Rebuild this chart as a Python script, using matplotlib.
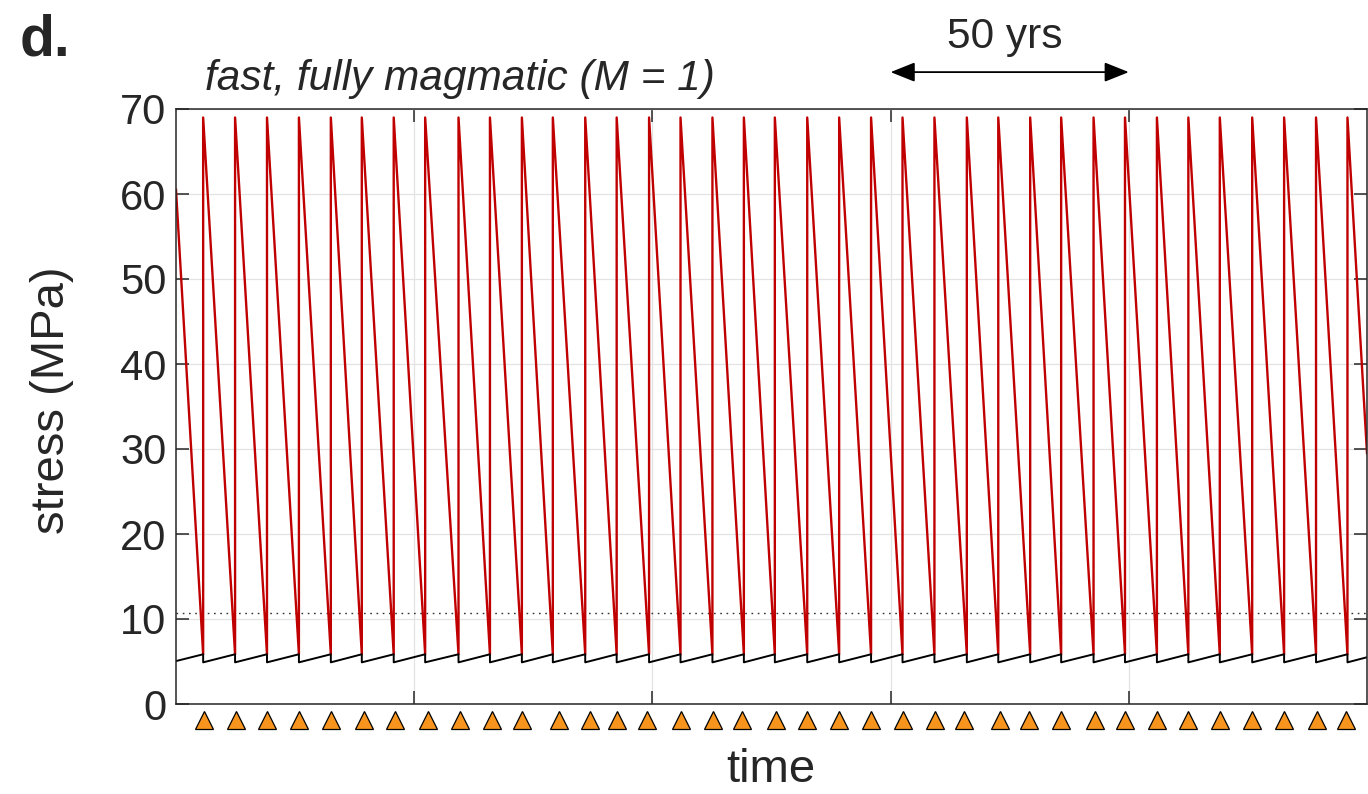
import matplotlib.pyplot as plt
import numpy as np

plt.rcParams['font.family'] = ['Liberation Sans', 'DejaVu Sans']

# eruption / dike events (yrs)
event_t = [5.7, 12.4, 19.1, 25.8, 32.5, 39.0, 45.7, 52.3, 59.3, 65.9,
           72.6, 79.1, 85.9, 92.5, 99.3, 105.9, 112.6, 119.2, 125.7, 132.5,
           139.2, 145.9, 152.5, 159.2, 166.0, 172.6, 179.3, 185.8, 192.6, 199.2,
           205.9, 212.5, 219.1, 225.9, 232.6, 239.3, 245.9]
# triangle markers under the axis
tri_t = [5.9, 12.6, 19.2, 25.9, 32.5, 39.4, 46.0, 52.8, 59.6, 66.4,
         72.6, 80.4, 87.0, 92.6, 98.8, 106.0, 112.8, 118.9, 125.9, 132.5,
         139.2, 145.9, 152.5, 159.3, 165.5, 173.0, 179.0, 185.8, 192.9, 199.1,
         205.9, 212.5, 219.1, 225.8, 232.6, 239.4, 245.6]

t_end = 250
# red curve (magma stress)
red_start, red_peak, red_trough, red_end = 60.5, 69.0, 5.85, 29.5
# black curve (tectonic stress)
blk_start, blk_low, blk_high, blk_end = 5.05, 4.9, 5.85, 5.5
threshold = 10.75

red_x, red_y = [0], [red_start]
blk_x, blk_y = [0], [blk_start]
for t in event_t:
    red_x += [t, t]
    red_y += [red_trough, red_peak]
    blk_x += [t, t]
    blk_y += [blk_high, blk_low]
red_x.append(t_end); red_y.append(red_end)
blk_x.append(t_end); blk_y.append(blk_end)

fig = plt.figure(figsize=(13.68, 7.94), dpi=100)
ax = fig.add_axes([176/1368, 90/794, 1191/1368, 595/794])

txt = '#262626'
ax.set_xlim(0, t_end)
ax.set_ylim(0, 70)
ax.set_yticks(np.arange(0, 71, 10))
ax.set_xticks([50, 100, 150, 200])
ax.set_xticklabels([])
ax.grid(True, color='#e3e3e3', lw=0.9)
ax.set_axisbelow(True)
for s in ax.spines.values():
    s.set_color(txt)
    s.set_linewidth(1.1)
ax.tick_params(direction='in', length=9.5, width=1.1, color=txt,
               top=True, right=True, labelsize=30, labelcolor=txt, pad=7)

ax.axhline(threshold, color='#333333', lw=1.0, dashes=(1.2, 3.3))
ax.plot(red_x, red_y, color='#c00000', lw=1.7)
ax.plot(blk_x, blk_y, color='black', lw=1.4)
ax.plot(tri_t, [-1.9] * len(tri_t), ls='none', marker='^', ms=12.5,
        mfc='#f7941d', mec='black', mew=0.9, clip_on=False)

# 50 yr scale arrow
ax.annotate('', xy=(150, 1.062), xytext=(200, 1.062),
            xycoords=ax.get_xaxis_transform(), textcoords=ax.get_xaxis_transform(),
            arrowprops=dict(arrowstyle='<|-|>,head_length=0.75,head_width=0.3',
                            color='black', lw=1.3, shrinkA=0, shrinkB=0,
                            mutation_scale=20),
            annotation_clip=False)
fig.text(1005/1368, 1 - 48/794, '50 yrs', ha='center', va='baseline',
         fontsize=30.5, color=txt)

fig.text(205/1368, 1 - 90/794, 'fast, fully magmatic (M = 1)', ha='left',
         va='baseline', fontsize=30.5, style='italic', color=txt)
fig.text(20/1368, 1 - 55/794, 'd.', ha='left', va='baseline',
         fontsize=41, weight='bold', color=txt)
fig.text(52/1368, 1 - 400/794, 'stress (MPa)', rotation=90, ha='center',
         va='center', fontsize=34, color=txt)
fig.text(771/1368, 1 - 782/794, 'time', ha='center', va='baseline',
         fontsize=34, color=txt)

fig.savefig('out.png', dpi=100)
